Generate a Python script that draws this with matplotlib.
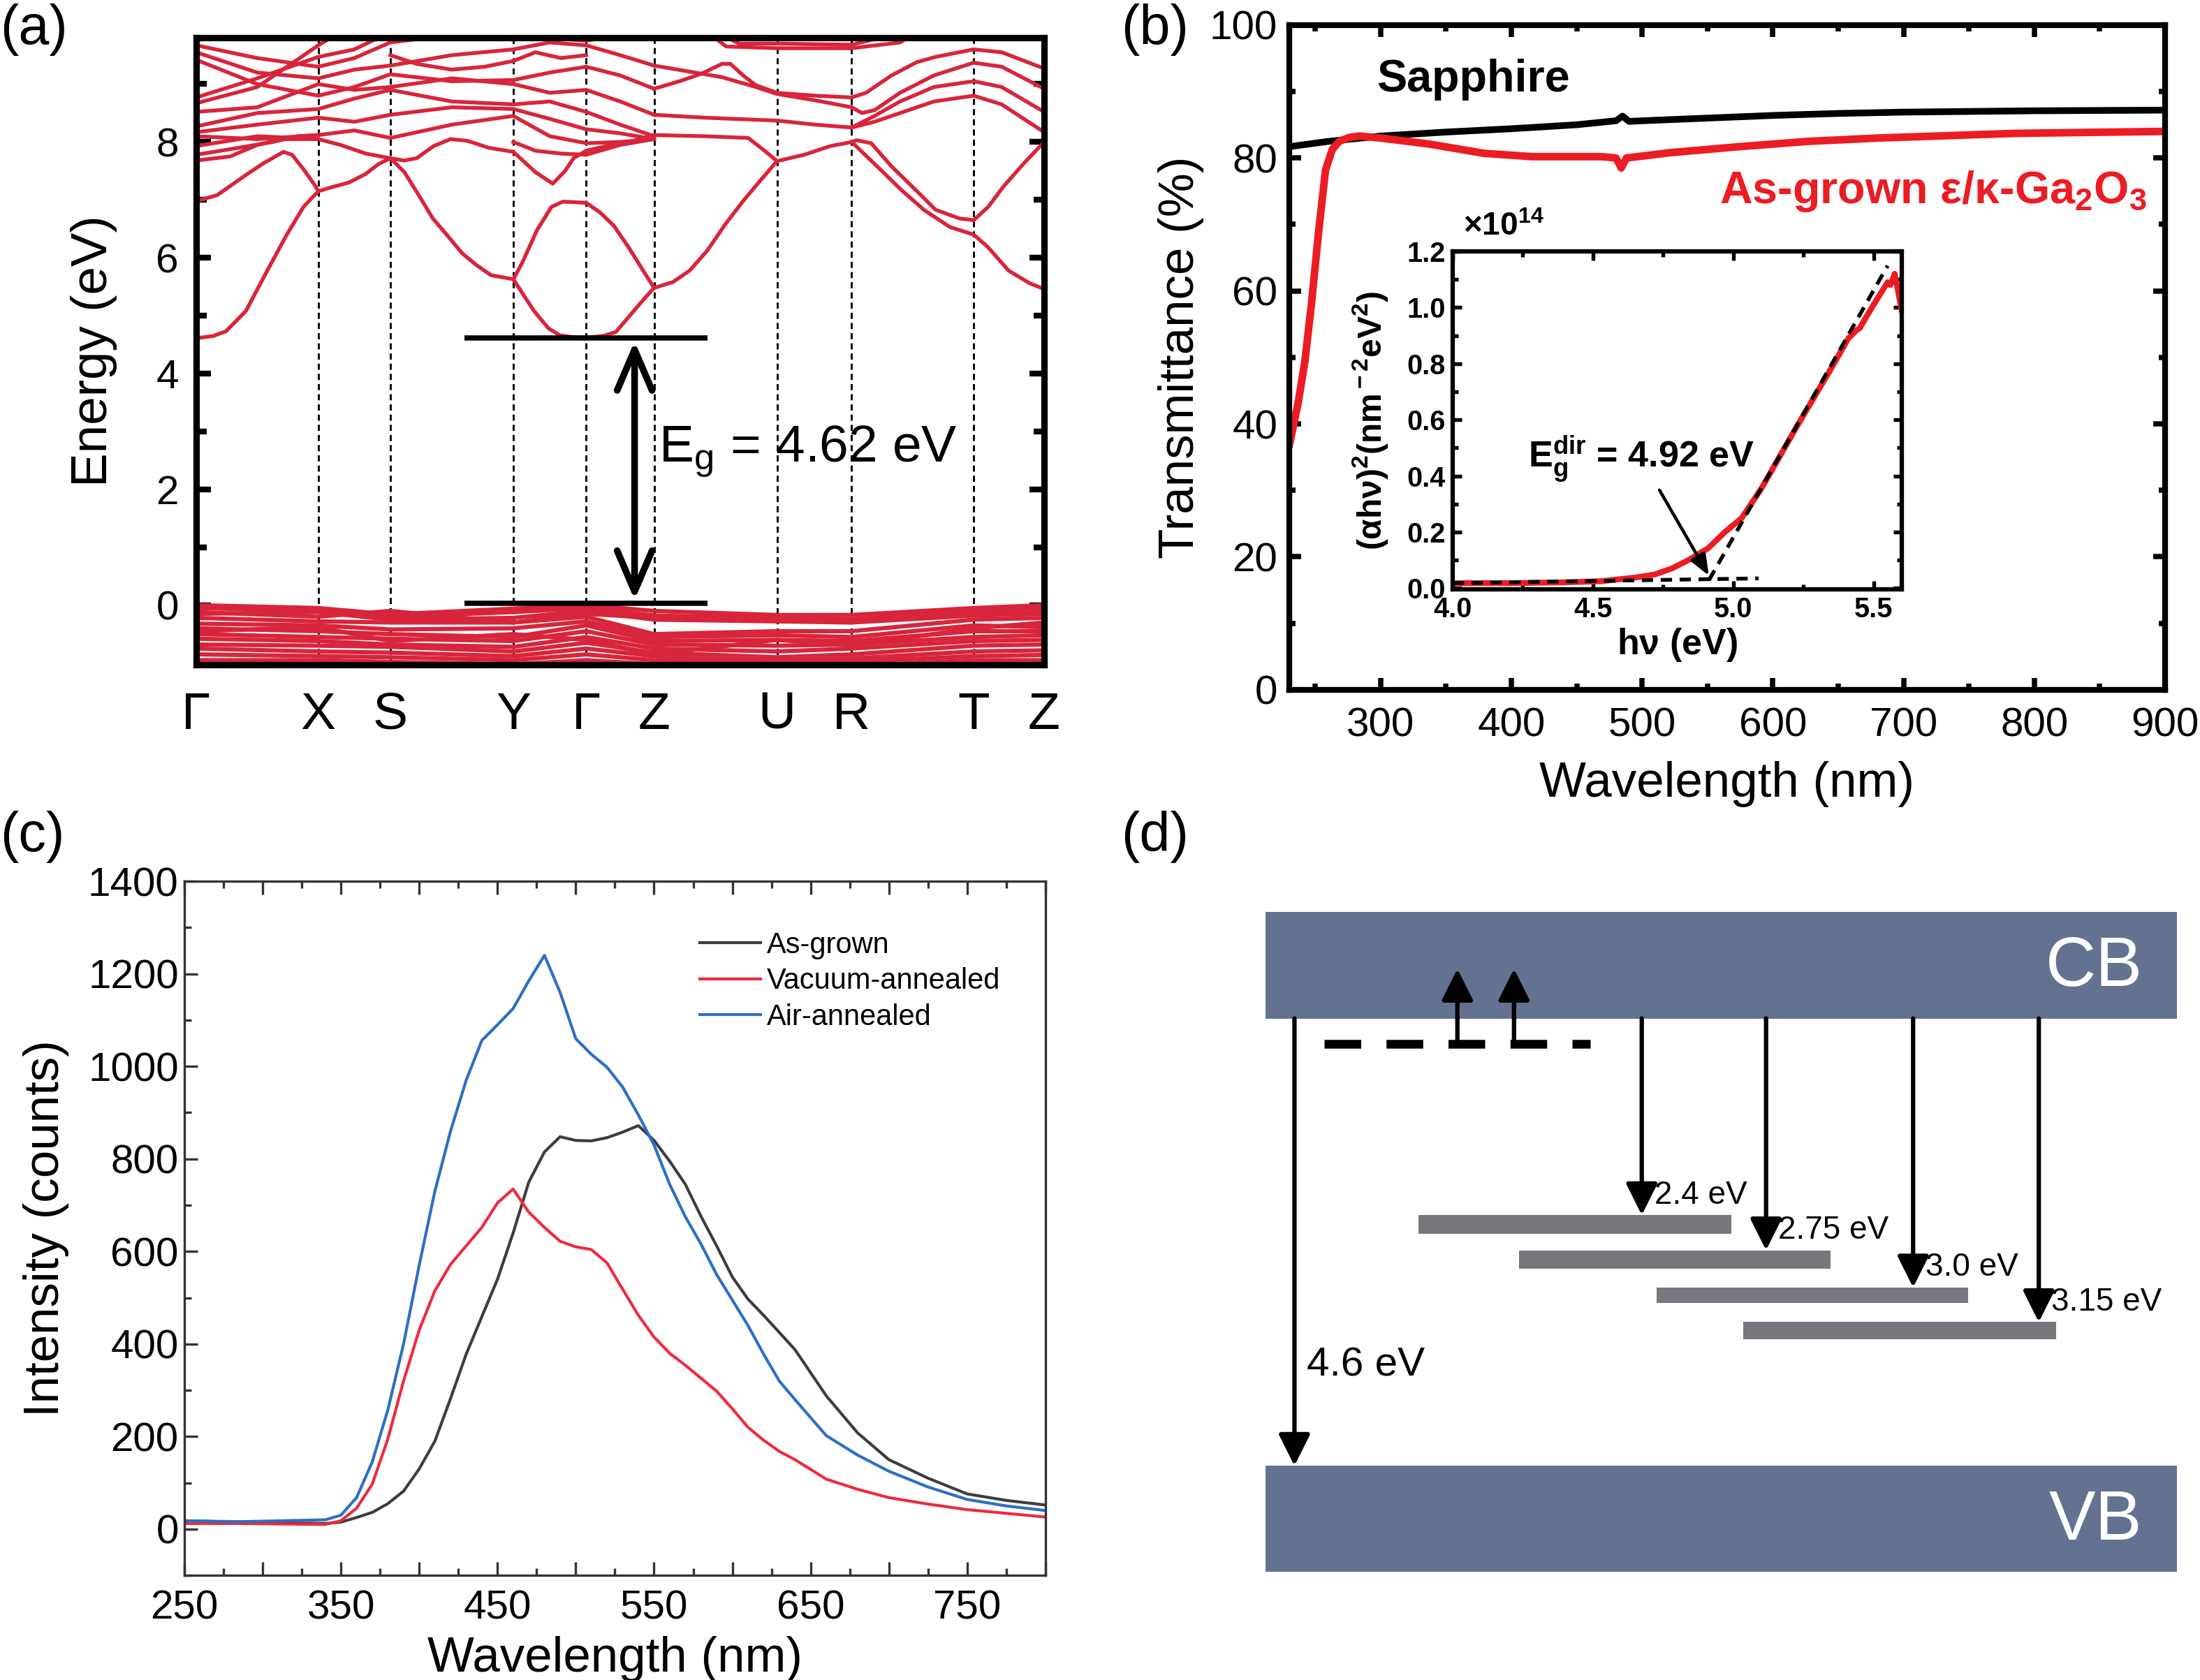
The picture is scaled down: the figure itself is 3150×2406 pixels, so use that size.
import matplotlib
matplotlib.use('Agg')
import matplotlib.pyplot as plt
from matplotlib.ticker import MultipleLocator, FuncFormatter
from matplotlib.patches import Rectangle

plt.rcParams['font.family'] = ['Liberation Sans', 'DejaVu Sans']
plt.rcParams['mathtext.fontset'] = 'custom'
plt.rcParams['mathtext.rm'] = 'Liberation Sans'
plt.rcParams['mathtext.it'] = 'Liberation Sans:italic'
plt.rcParams['mathtext.bf'] = 'Liberation Sans:bold'

# ---------------- (a) band structure ----------------
kpath_labels = ['Γ', 'X', 'S', 'Y', 'Γ', 'Z', 'U', 'R', 'T', 'Z']
kpath_pos = [0, 0.144, 0.229, 0.374, 0.460, 0.540, 0.685, 0.773, 0.917, 1.0]

# conduction bands, each one a (k, E) polyline
kA = [0, 0.02, 0.035, 0.0585, 0.082, 0.106, 0.1265, 0.144, 0.16, 0.18, 0.20, 0.215, 0.229,
      0.2455, 0.2625, 0.279, 0.2965, 0.3135, 0.330, 0.3475, 0.374, 0.385, 0.3985, 0.4155,
      0.429, 0.445, 0.460, 0.48, 0.495, 0.513, 0.527, 0.540, 0.562, 0.582, 0.603, 0.624,
      0.645, 0.665, 0.685, 0.717, 0.748, 0.773, 0.779, 0.796, 0.820, 0.848, 0.872, 0.900,
      0.917, 0.934, 0.952, 0.976, 1.0]
eA = [4.61, 4.65, 4.73, 5.08, 5.73, 6.38, 6.88, 7.15, 7.22, 7.3, 7.45, 7.62, 7.72,
      7.48, 7.08, 6.68, 6.38, 6.08, 5.88, 5.7, 5.63, 5.38, 5.08, 4.78,
      4.66, 4.63, 4.62, 4.65, 4.72, 5.03, 5.27, 5.48, 5.58, 5.78, 6.13, 6.58,
      6.98, 7.33, 7.67, 7.78, 7.93, 8.0, 8.03, 7.98, 7.58, 7.18, 6.83, 6.68,
      6.65, 6.88, 7.23, 7.63, 8.0]
kA2 = [0.773, 0.803, 0.831, 0.858, 0.889, 0.917, 0.934, 0.958, 0.983, 1.0]
eA2 = [8.0, 7.58, 7.18, 6.83, 6.53, 6.4, 6.18, 5.78, 5.56, 5.46]
kB = [0.374, 0.385, 0.402, 0.419, 0.4325, 0.460, 0.4765, 0.4927, 0.510, 0.527, 0.540]
eB = [5.63, 5.93, 6.48, 6.88, 6.97, 6.95, 6.78, 6.55, 6.18, 5.78, 5.48]
kC = [0, 0.0245, 0.0585, 0.079, 0.103, 0.113, 0.1265, 0.140, 0.144]
eC = [6.98, 7.08, 7.43, 7.63, 7.83, 7.78, 7.53, 7.25, 7.15]
kD = [0, 0.072, 0.144, 0.17, 0.20, 0.229, 0.245, 0.26, 0.28, 0.30, 0.32, 0.345, 0.374,
      0.40, 0.4205, 0.435, 0.445, 0.460, 0.49, 0.515, 0.540, 0.60, 0.651, 0.672, 0.685]
eD = [7.93, 8.1, 8.05, 7.95, 7.8, 7.72, 7.68, 7.72, 7.93, 8.05, 8.02, 7.9, 7.83,
      7.48, 7.28, 7.5, 7.72, 7.85, 7.95, 8.02, 8.12, 8.1, 8.07, 7.83, 7.67]
kU = [0, 0.072, 0.144, 0.1865, 0.229, 0.3015, 0.374, 0.417, 0.460, 0.50, 0.540]
eL1 = [9.67, 9.45, 9.30, 9.45, 9.72, 9.85, 9.77, 9.8, 9.75, 9.85, 10.0]
eL2 = [9.55, 9.2, 9.10, 9.25, 9.32, 9.5, 9.6, 9.72, 9.67, 9.5, 9.32]
eL3 = [9.42, 9.0, 8.80, 8.95, 9.17, 9.05, 9.07, 9.2, 9.3, 9.15, 8.92]
eL6 = [8.52, 8.6, 9.00, 8.9, 8.95, 9.1, 9.0, 8.85, 8.9, 8.7, 8.47]
eL7 = [8.27, 8.5, 8.57, 8.75, 8.90, 8.7, 8.65, 8.7, 8.52, 8.3, 8.1]
eL8 = [8.17, 8.3, 8.42, 8.35, 8.47, 8.6, 8.57, 8.4, 8.22, 8.15, 8.05]
eL9 = [8.10, 8.05, 8.12, 8.2, 8.07, 8.3, 8.45, 8.1, 7.98, 8.0, 8.05]
kL4 = [0, 0.072, 0.144, 0.1865, 0.229]
eL4 = [8.77, 9.1, 9.47, 9.6, 9.9]
kL5 = [0, 0.072, 0.144, 0.17]
eL5 = [8.67, 8.95, 9.67, 9.9]
kL10 = [0, 0.05, 0.09, 0.12, 0.144]
eL10 = [7.78, 7.9, 8.0, 8.1, 8.12]
kL11 = [0, 0.04, 0.072, 0.10, 0.144]
eL11 = [7.68, 7.75, 7.95, 8.05, 8.05]
kL12 = [0.374, 0.40, 0.43, 0.46, 0.50, 0.54]
eL12 = [8.0, 7.85, 7.8, 7.78, 7.95, 8.05]
kL13 = [0.229, 0.26, 0.3015, 0.34, 0.374, 0.40, 0.43, 0.460]
eL13 = [9.5, 9.35, 9.25, 9.3, 9.4, 9.55, 9.45, 9.5]
kR1 = [0.540, 0.57, 0.596, 0.62, 0.63, 0.645, 0.66, 0.685, 0.73, 0.773, 0.79, 0.82, 0.85,
       0.872, 0.917, 0.95, 1.0]
eR1 = [8.92, 9.05, 9.18, 9.35, 9.35, 9.15, 8.98, 8.85, 8.8, 8.77, 8.85, 9.15, 9.38,
       9.47, 9.6, 9.55, 9.27]
kR2 = [0.540, 0.58, 0.62, 0.66, 0.685, 0.73, 0.773, 0.785, 0.80, 0.83, 0.87, 0.917, 0.95, 1.0]
eR2 = [9.32, 9.22, 9.12, 8.95, 8.83, 8.72, 8.6, 8.5, 8.55, 8.85, 9.15, 9.37, 9.3, 8.92]
kR3 = [0.540, 0.60, 0.685, 0.73, 0.773, 0.80, 0.83, 0.87, 0.917, 0.95, 1.0]
eR3 = [8.47, 8.42, 8.37, 8.3, 8.25, 8.45, 8.7, 8.95, 9.05, 8.95, 8.52]
kR4 = [0.773, 0.80, 0.83, 0.87, 0.917, 0.95, 1.0]
eR4 = [8.25, 8.35, 8.5, 8.7, 8.8, 8.65, 8.17]
kT1 = [0.607, 0.625, 0.685, 0.773, 0.83, 0.845]
eT1 = [9.85, 9.65, 9.62, 9.62, 9.72, 9.85]
kT2 = [0.62, 0.64, 0.685, 0.773, 0.82]
eT2 = [9.85, 9.7, 9.7, 9.68, 9.85]

cond_bands = [(kA, eA), (kA2, eA2), (kB, eB), (kC, eC), (kD, eD),
              (kU, eL1), (kU, eL2), (kU, eL3), (kU, eL6), (kU, eL7), (kU, eL8), (kU, eL9),
              (kL4, eL4), (kL5, eL5), (kL10, eL10), (kL11, eL11), (kL12, eL12), (kL13, eL13),
              (kR1, eR1), (kR2, eR2), (kR3, eR3), (kR4, eR4), (kT1, eT1), (kT2, eT2)]

# valence bands, values at the high-symmetry points
val_bands = [
    [0.00, -0.05, -0.16, -0.06, 0.00, -0.10, -0.17, -0.17, -0.05, 0.00],
    [-0.05, -0.10, -0.20, -0.12, -0.05, -0.18, -0.22, -0.24, -0.10, -0.05],
    [-0.15, -0.12, -0.25, -0.22, -0.10, -0.25, -0.28, -0.30, -0.18, -0.15],
    [-0.12, -0.20, -0.10, -0.30, -0.15, -0.22, -0.25, -0.27, -0.15, -0.12],
    [-0.22, -0.28, -0.30, -0.30, -0.20, -0.50, -0.45, -0.45, -0.25, -0.22],
    [-0.32, -0.35, -0.42, -0.40, -0.28, -0.55, -0.52, -0.55, -0.35, -0.38],
    [-0.40, -0.45, -0.50, -0.55, -0.35, -0.62, -0.60, -0.62, -0.45, -0.45],
    [-0.45, -0.38, -0.62, -0.50, -0.60, -0.85, -0.60, -0.70, -0.40, -0.30],
    [-0.50, -0.55, -0.58, -0.62, -0.45, -0.68, -0.70, -0.68, -0.55, -0.52],
    [-0.58, -0.62, -0.68, -0.72, -0.55, -0.75, -0.80, -0.75, -0.62, -0.60],
    [-0.68, -0.70, -0.72, -0.80, -0.65, -0.82, -0.90, -0.85, -0.70, -0.68],
    [-0.75, -0.80, -0.82, -0.88, -0.75, -0.88, -0.95, -0.92, -0.80, -0.78],
    [-0.85, -0.88, -0.90, -0.95, -0.85, -0.95, -1.00, -0.98, -0.88, -0.86],
    [-0.95, -0.95, -0.98, -1.02, -0.95, -1.02, -1.05, -1.05, -0.95, -0.95],
]
gap_value = 4.62

# ---------------- (b) transmittance ----------------
sap_nm = [230, 260, 300, 350, 400, 450, 480, 485, 490, 500, 550, 600, 650, 700, 800, 900]
sap_T = [81.7, 82.5, 83.3, 83.9, 84.4, 85.0, 85.6, 86.3, 85.5, 85.6, 86.0, 86.4, 86.7, 86.9, 87.1, 87.2]
gao_nm = [230.3, 236.7, 242, 247, 252.5, 257.8, 263, 268.3, 276, 284, 300, 337, 379, 416,
          450, 469, 480, 484, 488, 521.6, 574, 627, 680, 785, 900]
gao_T = [37.0, 43, 49.4, 58, 68.9, 78.2, 81.3, 82.5, 83.1, 83.3, 83.0, 82.1, 80.7, 80.2,
         80.2, 80.2, 80.0, 78.5, 80.0, 80.8, 81.7, 82.5, 83.0, 83.7, 84.0]
# inset (Tauc plot)
tauc_E = [4.0, 4.21, 4.40, 4.53, 4.65, 4.72, 4.78, 4.84, 4.91, 4.97, 5.03, 5.10, 5.16, 5.22,
          5.285, 5.35, 5.41, 5.44, 5.45, 5.47, 5.50, 5.525, 5.55, 5.56, 5.575, 5.585, 5.6]
tauc_y = [0.018, 0.018, 0.021, 0.025, 0.038, 0.049, 0.07, 0.10, 0.142, 0.20, 0.25, 0.355,
          0.46, 0.565, 0.675, 0.785, 0.89, 0.92, 0.925, 0.96, 1.01, 1.05, 1.09, 1.08, 1.12,
          1.07, 0.99]
base_E = [4.0, 5.09]
base_y = [0.018, 0.035]
fit_E = [4.913, 5.55]
fit_y = [0.028, 1.149]

# ---------------- (c) photoluminescence ----------------
pl_nm = [250, 285, 340, 350, 360, 370, 380, 390, 400, 410, 420, 430, 440, 450, 460, 470, 480,
         490, 500, 510, 520, 530, 540, 550, 560, 570, 580, 590, 600, 610, 620, 630, 640, 660,
         680, 700, 725, 750, 775, 800]
pl_asgrown = [18, 15, 12, 15, 25, 36, 55, 82, 130, 190, 282, 378, 459, 540, 640, 750, 815,
              848, 840, 839, 846, 858, 872, 840, 795, 745, 676, 612, 545, 497, 462, 425, 388,
              288, 208, 150, 110, 76, 62, 52]
pl_vacuum = [12, 12, 10, 18, 45, 97, 195, 320, 430, 515, 572, 612, 652, 705, 735, 685, 652,
             622, 610, 604, 575, 518, 462, 415, 380, 354, 326, 298, 260, 220, 192, 168, 150,
             108, 86, 68, 54, 42, 34, 26]
pl_air = [18, 16, 20, 30, 68, 145, 258, 400, 570, 730, 860, 970, 1056, 1090, 1125, 1185, 1240,
          1160, 1060, 1026, 998, 955, 895, 830, 745, 675, 616, 550, 495, 440, 378, 320, 280,
          202, 160, 125, 91, 64, 50, 40]
pl_names = ['As-grown', 'Vacuum-annealed', 'Air-annealed']
pl_colors = ['#3d3d3d', '#ee2a40', '#2c6fc4']

# ---------------- (d) energy diagram (schematic units) ----------------
band_labels = ['CB', 'VB']
band_top = [220, 1338]
band_bottom = [435, 1552]
trap_left = [437, 582, 782, 907]
trap_right = [890, 1033, 1233, 1360]
trap_top = [832, 903, 978, 1048]
trap_bottom = [870, 940, 1010, 1083]
emis_x = [760, 940, 1153, 1335]
emis_labels = ['2.4 eV', '2.75 eV', '3.0 eV', '3.15 eV']
donor_level = 487
donor_x = [300, 685]
up_x = [493, 575]
up_top = 335
gap_x = 257
gap_label = '4.6 eV'

BAND_RED = '#d8253b'
RED_B = '#ec1c24'
SLATE = '#637291'
GREY = '#77787d'

fig = plt.figure(figsize=(10.5, 8.02), dpi=300)

# ======== (a) ========
ax = fig.add_axes([0.0892, 0.6043, 0.3854, 0.3732])
for p in kpath_pos[1:-1]:
    ax.axvline(p, color='k', lw=0.7, ls=(0, (3, 2)), zorder=1)
for k, e in cond_bands:
    ax.plot(k, e, color=BAND_RED, lw=1.3, solid_joinstyle='round', zorder=2)
for e in val_bands:
    ax.plot(kpath_pos, e, color=BAND_RED, lw=1.45, solid_joinstyle='round', zorder=2)
ax.hlines([gap_value, 0.03], 0.316, 0.603, colors='k', lw=1.8, zorder=3)
ax.annotate('', xy=(0.517, 0.09), xytext=(0.517, gap_value - 0.06),
            arrowprops=dict(arrowstyle='<->,head_length=0.7,head_width=0.3', lw=2.3,
                            color='k', shrinkA=0, shrinkB=0, mutation_scale=20), zorder=4)
ax.text(0.545, 2.65, r'E$_{\rm g}$ = 4.62 eV', fontsize=18, va='center', ha='left')
ax.set_xlim(0, 1)
ax.set_ylim(-1.03, 9.8)
ax.set_xticks(kpath_pos)
ax.set_xticklabels(kpath_labels, fontsize=18)
ax.tick_params(axis='x', length=0, pad=9)
ax.yaxis.set_major_locator(MultipleLocator(2))
ax.yaxis.set_minor_locator(MultipleLocator(1))
ax.tick_params(axis='y', which='both', direction='in', left=True, right=True,
               width=2.0, labelsize=14, pad=6)
ax.tick_params(axis='y', which='major', length=5)
ax.tick_params(axis='y', which='minor', length=3.5)
for s in ax.spines.values():
    s.set_linewidth(2.2)
ax.set_ylabel('Energy (eV)', fontsize=17.5)
ax.yaxis.set_label_coords(-0.093, 0.5)

# ======== (b) ========
axb = fig.add_axes([0.5860, 0.5894, 0.3981, 0.3957])
axb.plot(sap_nm, sap_T, color='k', lw=2.3)
axb.plot(gao_nm, gao_T, color=RED_B, lw=2.6)
axb.set_xlim(230, 900)
axb.set_ylim(0, 100)
axb.xaxis.set_major_locator(MultipleLocator(100))
axb.xaxis.set_minor_locator(MultipleLocator(50))
axb.yaxis.set_major_locator(MultipleLocator(20))
axb.yaxis.set_minor_locator(MultipleLocator(10))
axb.tick_params(which='both', direction='in', top=True, right=True, width=1.8, labelsize=14)
axb.tick_params(which='major', length=4)
axb.tick_params(which='minor', length=2.2)
axb.tick_params(axis='x', pad=6)
axb.tick_params(axis='y', pad=4)
for s in axb.spines.values():
    s.set_linewidth(2.0)
axb.set_xlabel('Wavelength (nm)', fontsize=17)
axb.set_ylabel('Transmittance (%)', fontsize=17)
axb.xaxis.set_label_coords(0.5, -0.107)
axb.yaxis.set_label_coords(-0.097, 0.5)
axb.text(297, 91.8, 'Sapphire', fontsize=15.5, fontweight='bold', va='center', ha='left')
axb.text(886, 75, r'As-grown ε/κ-Ga$_{\bf 2}$O$_{\bf 3}$', fontsize=15.5, fontweight='bold',
         color=RED_B, va='center', ha='right')

axi = fig.add_axes([0.6603, 0.6492, 0.2041, 0.2012])
axi.plot(base_E, base_y, color='k', lw=1.3, ls=(0, (3, 2)), zorder=3)
axi.plot(tauc_E, tauc_y, color=RED_B, lw=2.0, zorder=2)
axi.plot(fit_E, fit_y, color='k', lw=1.3, ls=(0, (3, 2)), zorder=3)
axi.set_xlim(4.0, 5.6)
axi.set_ylim(-0.004, 1.2)
axi.xaxis.set_major_locator(MultipleLocator(0.5))
axi.xaxis.set_minor_locator(MultipleLocator(0.25))
axi.yaxis.set_major_locator(MultipleLocator(0.2))
axi.yaxis.set_minor_locator(MultipleLocator(0.1))
axi.xaxis.set_major_formatter(FuncFormatter(lambda v, p: f'{v:.1f}'))
axi.yaxis.set_major_formatter(FuncFormatter(lambda v, p: f'{v:.1f}'))
axi.tick_params(which='both', direction='in', top=True, right=True, width=1.3, labelsize=9.5, pad=2.5)
axi.tick_params(which='major', length=3)
axi.tick_params(which='minor', length=1.8)
for lab in axi.get_xticklabels() + axi.get_yticklabels():
    lab.set_fontweight('bold')
for s in axi.spines.values():
    s.set_linewidth(1.5)
axi.set_xlabel(r'h$\bf ν$ (eV)', fontsize=12.5, fontweight='bold')
axi.set_ylabel(r'($\bf αhν$)$^{\bf 2}$(nm$^{\bf -2}$eV$^{\bf 2}$)', fontsize=11.5, fontweight='bold')
axi.xaxis.set_label_coords(0.5, -0.11)
axi.yaxis.set_label_coords(-0.14, 0.5)
axi.text(0.023, 1.072, r'×10$^{\bf 14}$', transform=axi.transAxes, fontsize=11,
         fontweight='bold', ha='left', va='center')
axi.annotate(r'E$_{\bf g}^{\bf dir}$ = 4.92 eV', xy=(4.913, 0.045), xytext=(4.27, 0.46),
             fontsize=12.5, fontweight='bold', va='center', ha='left',
             arrowprops=dict(arrowstyle='-|>,head_length=0.5,head_width=0.2', lw=1.1,
                             color='k', shrinkA=0, shrinkB=0, mutation_scale=12),
             )

# ======== (c) ========
axc = fig.add_axes([0.0838, 0.0623, 0.3914, 0.4131])
for ys, name, col in zip([pl_asgrown, pl_vacuum, pl_air], pl_names, pl_colors):
    axc.plot(pl_nm, ys, color=col, lw=1.0, label=name)
axc.set_xlim(250, 800)
axc.set_ylim(-100, 1400)
axc.xaxis.set_major_locator(MultipleLocator(50))
axc.xaxis.set_minor_locator(MultipleLocator(25))
axc.xaxis.set_major_formatter(FuncFormatter(lambda v, p: f'{v:.0f}' if round(v - 250) % 100 == 0 else ''))
axc.yaxis.set_major_locator(MultipleLocator(200))
axc.yaxis.set_minor_locator(MultipleLocator(100))
axc.tick_params(which='both', direction='in', top=True, right=False, width=0.8,
                labelsize=14, color='#333333')
axc.tick_params(which='major', length=4.5)
axc.tick_params(which='minor', length=2.5)
axc.tick_params(axis='y', pad=2)
axc.tick_params(axis='x', pad=5)
for s in axc.spines.values():
    s.set_linewidth(0.8)
    s.set_color('#333333')
axc.set_xlabel('Wavelength (nm)', fontsize=17)
axc.set_ylabel('Intensity (counts)', fontsize=17)
axc.xaxis.set_label_coords(0.5, -0.087)
axc.yaxis.set_label_coords(-0.134, 0.5)
axc.legend(loc='upper left', bbox_to_anchor=(0.585, 0.945), frameon=False, fontsize=10,
           handlelength=2.1, handletextpad=0.2, labelspacing=0.28, borderaxespad=0)

# ======== (d) ========
axd = fig.add_axes([0.5752, 0.0644, 0.4143, 0.3928])
axd.set_xlim(215, 1535)
axd.set_ylim(1552, 220)
axd.axis('off')
for name, t, b in zip(band_labels, band_top, band_bottom):
    axd.add_patch(Rectangle((215, t), 1320, b - t, facecolor=SLATE, edgecolor='none'))
    axd.text(1485, (t + b) / 2 + 5, name, color='white', fontsize=24, ha='right', va='center')
for l, r, t, b in zip(trap_left, trap_right, trap_top, trap_bottom):
    axd.add_patch(Rectangle((l, t), r - l, b - t, facecolor=GREY, edgecolor='none'))
arrow_kw = dict(arrowstyle='-|>,head_length=0.4,head_width=0.2', lw=1.5, color='k',
                shrinkA=0, shrinkB=0, mutation_scale=23)
axd.annotate('', xy=(gap_x, band_top[1]), xytext=(gap_x, band_bottom[0]), arrowprops=arrow_kw)
axd.text(gap_x + 18, 1135, gap_label, fontsize=14, ha='left', va='center')
for x, t, lab in zip(emis_x, trap_top, emis_labels):
    axd.annotate('', xy=(x, t), xytext=(x, band_bottom[0]), arrowprops=arrow_kw)
    axd.text(x + 18, t - 40, lab, fontsize=11, ha='left', va='center')
axd.plot(donor_x, [donor_level, donor_level], color='k', lw=3, ls=(0, (4.2, 2.9)),
         dash_capstyle='butt')
for x in up_x:
    axd.annotate('', xy=(x, up_top), xytext=(x, donor_level), arrowprops=arrow_kw)

# panel letters
for x, y, lab in [(0.0, 0.998, '(a)'), (0.5095, 0.998, '(b)'),
                  (0.0, 0.5175, '(c)'), (0.5095, 0.5175, '(d)')]:
    fig.text(x, y, lab, fontsize=19, ha='left', va='top')

fig.savefig('out.png', dpi=300)
